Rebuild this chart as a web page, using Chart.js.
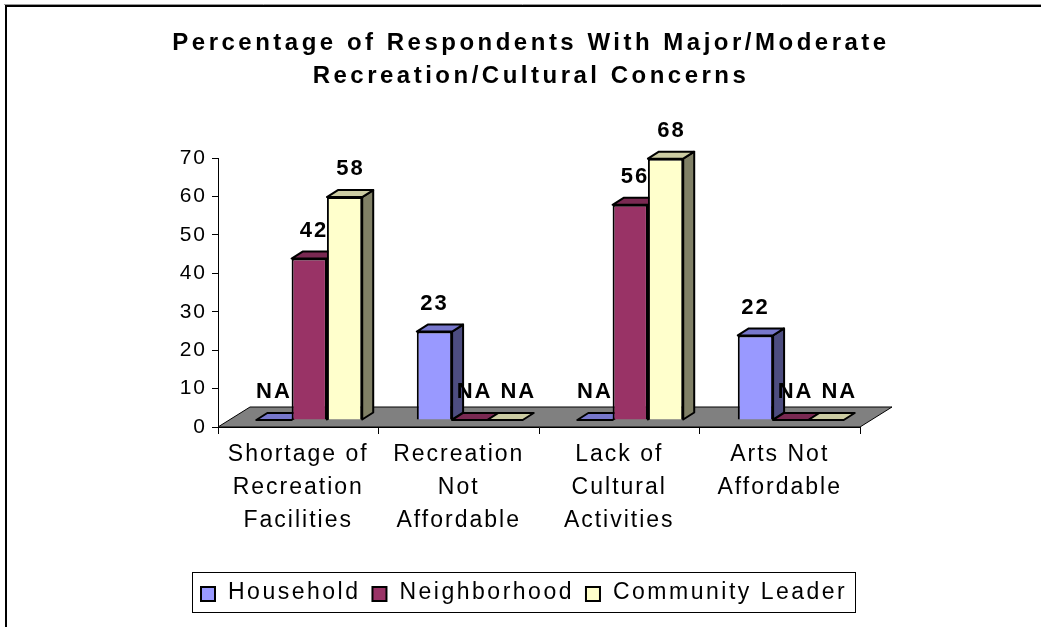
<!DOCTYPE html>
<html>
<head>
<meta charset="utf-8">
<script src="https://cdn.jsdelivr.net/npm/chart.js@4"></script>
<style>
  html, body { margin: 0; padding: 0; background: #fff; }
</style>
</head>
<body>
<canvas id="chart" width="1041" height="627"></canvas>
<script>
// Chart data (null = NA)
const categories = [
    ['Shortage of', 'Recreation', 'Facilities'],
    ['Recreation', 'Not', 'Affordable'],
    ['Lack of', 'Cultural', 'Activities'],
    ['Arts Not', 'Affordable']
];
const seriesNames = ['Household', 'Neighborhood', 'Community Leader'];
const household = [null, 23, null, 22];
const neighborhood = [42, null, 56, null];
const communityLeader = [58, null, 68, null];
const yMin = 0, yMax = 70, yStep = 10;
const titleLines = ['Percentage of Respondents With Major/Moderate', 'Recreation/Cultural Concerns'];

// Excel style colours: front, top, side
const frontColors = ['#9999FF', '#993366', '#FFFFCC'];
const topColors = ['#7777CC', '#7A2952', '#CCCCA3'];
const sideColors = ['#4D4D80', '#4D1A33', '#808066'];

// 3D depth offsets
const FLOOR_DX = 32, FLOOR_DY = -20;
const BAR_DX = 11, BAR_DY = -7;

const FONT = '"Liberation Sans", Arial, sans-serif';
Chart.defaults.font.family = FONT;
Chart.defaults.color = '#000';

const seriesValues = [household, neighborhood, communityLeader];

function poly(ctx, pts, fill) {
    ctx.beginPath();
    ctx.moveTo(pts[0][0], pts[0][1]);
    for (let i = 1; i < pts.length; i++) ctx.lineTo(pts[i][0], pts[i][1]);
    ctx.closePath();
    ctx.fillStyle = fill;
    ctx.fill();
    ctx.stroke();
}

const excel3d = {
    id: 'excel3d',
    beforeDraw(chart) {
        const ctx = chart.ctx;
        // outer frame
        ctx.save();
        ctx.strokeStyle = '#999';
        ctx.lineWidth = 1;
        ctx.beginPath();
        ctx.moveTo(4, 4.5); ctx.lineTo(1041, 4.5);
        ctx.stroke();
        ctx.strokeStyle = '#000';
        ctx.lineWidth = 2;
        ctx.beginPath();
        ctx.moveTo(6, 627); ctx.lineTo(6, 6); ctx.lineTo(1041, 6);
        ctx.stroke();

        // title
        ctx.font = 'bold 24px ' + FONT;
        ctx.letterSpacing = '3.5px';
        ctx.textAlign = 'center';
        ctx.textBaseline = 'middle';
        ctx.fillStyle = '#000';
        titleLines.forEach((line, i) => ctx.fillText(line, 531, 43 + i * 33));
        ctx.restore();

        // spacing for axis labels
        ctx.letterSpacing = '2px';
    },
    beforeDatasetsDraw(chart) {
        const ctx = chart.ctx;
        const a = chart.chartArea;
        const y0 = chart.scales.y.getPixelForValue(0);

        ctx.save();
        ctx.strokeStyle = '#000';
        ctx.lineWidth = 1;
        // floor
        poly(ctx, [[a.left, y0], [a.right, y0], [a.right + FLOOR_DX, y0 + FLOOR_DY], [a.left + FLOOR_DX, y0 + FLOOR_DY]], '#808080');

        // side and top faces
        ctx.lineWidth = 2;
        ctx.lineJoin = 'round';
        chart.data.datasets.forEach((ds, i) => {
            chart.getDatasetMeta(i).data.forEach(bar => {
                const l = bar.x - bar.width / 2 + BAR_DX;
                const r = bar.x + bar.width / 2 + BAR_DX;
                const t = bar.y + BAR_DY;
                const b = bar.base + BAR_DY;
                if (b - t > 0.5) {
                    poly(ctx, [[r, t], [r + BAR_DX, t + BAR_DY], [r + BAR_DX, b + BAR_DY], [r, b]], sideColors[i]);
                }
                poly(ctx, [[l, t], [l + BAR_DX, t + BAR_DY], [r + BAR_DX, t + BAR_DY], [r, t]], topColors[i]);
            });
        });
        ctx.restore();

        // front faces are drawn by Chart.js, moved into the floor
        ctx.save();
        ctx.translate(BAR_DX, BAR_DY);
    },
    afterDatasetsDraw(chart) {
        const ctx = chart.ctx;
        ctx.restore();

        // data labels, pushed right when they would run into the one before
        ctx.save();
        ctx.font = 'bold 22px ' + FONT;
        ctx.letterSpacing = '2px';
        ctx.textAlign = 'center';
        ctx.textBaseline = 'middle';
        ctx.fillStyle = '#000';
        categories.forEach((c, j) => {
            let prevRight = -Infinity;
            seriesValues.forEach((vals, i) => {
                const bar = chart.getDatasetMeta(i).data[j];
                const txt = vals[j] == null ? 'NA' : String(vals[j]);
                const w = ctx.measureText(txt).width;
                let x = bar.x + BAR_DX;
                const y = bar.y + BAR_DY - 28;
                if (x - w / 2 < prevRight + 8) x = prevRight + 8 + w / 2;
                ctx.fillText(txt, x, y);
                prevRight = x + w / 2;
            });
        });
        ctx.restore();

        // legend
        ctx.save();
        ctx.strokeStyle = '#000';
        ctx.lineWidth = 1;
        ctx.strokeRect(192.5, 572.5, 663, 40);
        ctx.font = '23px ' + FONT;
        ctx.letterSpacing = '2.5px';
        ctx.textAlign = 'left';
        ctx.textBaseline = 'middle';
        let x = 201;
        seriesNames.forEach((name, i) => {
            ctx.fillStyle = frontColors[i];
            ctx.fillRect(x, 587, 14, 14);
            ctx.lineWidth = 2;
            ctx.strokeRect(x, 587, 14, 14);
            ctx.fillStyle = '#000';
            ctx.fillText(name, x + 27, 593);
            x += 27 + ctx.measureText(name).width + 12;
        });
        ctx.restore();
    }
};

new Chart(document.getElementById('chart'), {
    type: 'bar',
    data: {
        labels: categories,
        datasets: seriesNames.map((name, i) => ({
            label: name,
            data: seriesValues[i].map(v => v == null ? 0 : v),
            backgroundColor: frontColors[i],
            borderColor: '#000',
            borderWidth: 2,
            categoryPercentage: 0.66,
            barPercentage: 1,
            clip: false
        }))
    },
    options: {
        responsive: false,
        animation: false,
        layout: { padding: { top: 158, right: 181, bottom: 0, left: 0 } },
        plugins: {
            legend: { display: false },
            title: { display: false },
            tooltip: { enabled: false }
        },
        scales: {
            x: {
                grid: { drawOnChartArea: false, tickLength: 7, color: '#000', offset: true },
                border: { display: true, color: '#000' },
                ticks: {
                    font: { size: 23, lineHeight: '33px' },
                    color: '#000',
                    padding: 4,
                    maxRotation: 0,
                    autoSkip: false
                },
                afterFit(scale) { scale.height = 627 - 427; }
            },
            y: {
                min: yMin,
                max: yMax,
                grid: { drawOnChartArea: false, tickLength: 6, color: '#000' },
                border: { display: true, color: '#000' },
                ticks: {
                    stepSize: yStep,
                    font: { size: 21 },
                    color: '#000',
                    padding: 5
                },
                afterFit(scale) { scale.width = 218; }
            }
        }
    },
    plugins: [excel3d]
});
</script>
</body>
</html>
